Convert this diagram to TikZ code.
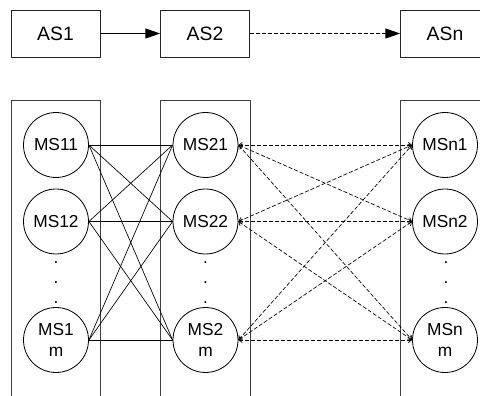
\documentclass[tikz,border=0pt]{standalone}
\usepackage{fontspec}
\setmainfont{Liberation Sans}
\usetikzlibrary{arrows.meta}

\begin{document}
\begin{tikzpicture}[x=0.75pt,y=-0.75pt,
    asbox/.style={draw=black!85,line width=0.6pt,minimum width=66.75pt,minimum height=35.25pt,inner sep=0pt,font=\fontsize{14.5}{17}\selectfont},
    msnode/.style={draw,circle,line width=0.6pt,minimum size=48.75pt,inner sep=0pt,align=center,font=\fontsize{13}{15.6}\selectfont},
    dotmark/.style={inner sep=0pt,anchor=base,font=\fontsize{13}{15.6}\selectfont},
    colbox/.style={draw=black!75,line width=0.6pt},
    msline/.style={line width=0.5pt},
    msdash/.style={line width=0.5pt,dash pattern=on 3pt off 1.5pt,{Straight Barb[length=2.5pt,width=4pt]}-{Straight Barb[length=2.5pt,width=4pt]}}]
        \clip (0,0) rectangle (480,396);

        % application servers
        \node[asbox] (as1) at (55.5,33.5) {AS1};
        \node[asbox] (as2) at (205,33.5) {AS2};
        \node[asbox] (asn) at (445,33.5) {ASn};

        \draw[line width=0.6pt,-{Triangle[length=11pt,width=7.5pt]}] (as1) -- (as2);
        \draw[line width=0.6pt,dash pattern=on 3pt off 1.5pt,-{Triangle[length=11pt,width=7.5pt]}] (as2) -- (asn);

        % columns
        \draw[colbox] (11,100) rectangle (100,420);
        \draw[colbox] (160.5,100) rectangle (250,420);
        \draw[colbox] (400,100) rectangle (490,420);

        % members
        \node[msnode] (ms11) at (56,145) {MS11};
        \node[msnode] (ms12) at (56,221.5) {MS12};
        \node[msnode] (ms1m) at (56,340) {MS1\\m};

        \node[msnode] (ms21) at (205.5,145) {MS21};
        \node[msnode] (ms22) at (205.5,221.5) {MS22};
        \node[msnode] (ms2m) at (205.5,340) {MS2\\m};

        \node[msnode] (msn1) at (445,145) {MSn1};
        \node[msnode] (msn2) at (445,221.5) {MSn2};
        \node[msnode] (msnm) at (445,340) {MSn\\m};

        \foreach \c/\x in {1/56,2/205.5,n/446}
          \foreach \k/\y in {1/263,2/283,3/304}
            \node[dotmark] (dot\c\k) at (\x,\y) {.};

        % connections
        \foreach \i in {1,2,m}
          \foreach \j in {1,2,m}
            \draw[msline] (ms1\i.east) -- (ms2\j.west);
        \foreach \i in {1,2,m}
          \foreach \j in {1,2,m}
            \draw[msdash] (ms2\i.east) -- (msn\j.west);
      \end{tikzpicture}
\end{document}
